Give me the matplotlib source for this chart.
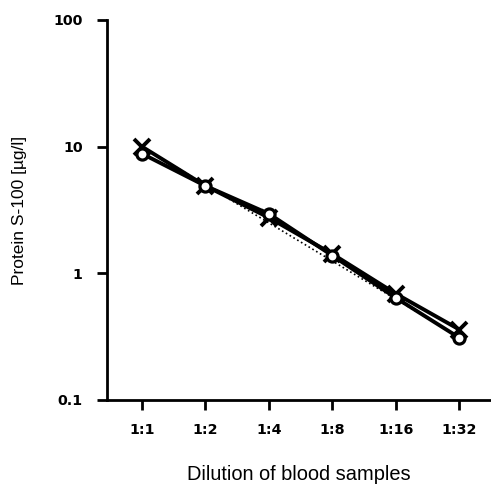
import matplotlib
matplotlib.use('Agg')
import matplotlib.pyplot as plt

# dilution steps and measured S-100 values
dilutions = ['1:1', '1:2', '1:4', '1:8', '1:16', '1:32']
sample_x = [10.0, 4.9, 2.75, 1.42, 0.69, 0.36]     # crosses
sample_o = [8.8, 4.9, 2.95, 1.38, 0.64, 0.31]      # open circles
expected = [10.0, 5.0, 2.5, 1.25, 0.625, 0.3125]   # dotted line

plt.rcParams['font.family'] = ['Liberation Sans', 'DejaVu Sans']

fig = plt.figure(figsize=(4.91, 4.86), dpi=100)
ax = fig.add_axes([0.218, 0.177, 0.782, 0.782])

xs = list(range(len(dilutions)))
ax.plot(xs, expected, color='black', lw=1.2, ls=':')
ax.plot(xs, sample_x, color='black', lw=2.8, marker='x', ms=12, mew=2.8)
ax.plot(xs, sample_o, color='black', lw=2.8, marker='o', ms=8,
        mfc='white', mec='black', mew=2.3)

ax.set_yscale('log')
ax.set_ylim(0.1, 100)
ax.set_xlim(-0.55, 5.5)
ax.set_yticks([0.1, 1, 10, 100])
ax.set_yticklabels(['0.1', '1', '10', '100'])
ax.minorticks_off()
ax.set_xticks(xs)
ax.set_xticklabels(dilutions)

for lab in ax.get_xticklabels() + ax.get_yticklabels():
    lab.set_family('DejaVu Sans')
    lab.set_fontweight('bold')
    lab.set_fontsize(10.3)

ax.tick_params(axis='y', length=7.5, width=2, pad=10)
ax.tick_params(axis='x', length=7.5, width=2, pad=9)

ax.spines['top'].set_visible(False)
ax.spines['right'].set_visible(False)
ax.spines['left'].set_linewidth(2)
ax.spines['bottom'].set_linewidth(2)

ax.set_ylabel('Protein S-100 [µg/l]', fontsize=12.5, labelpad=19)
ax.set_xlabel('Dilution of blood samples', fontsize=14.4, labelpad=20)

fig.savefig('out.png', dpi=100)
